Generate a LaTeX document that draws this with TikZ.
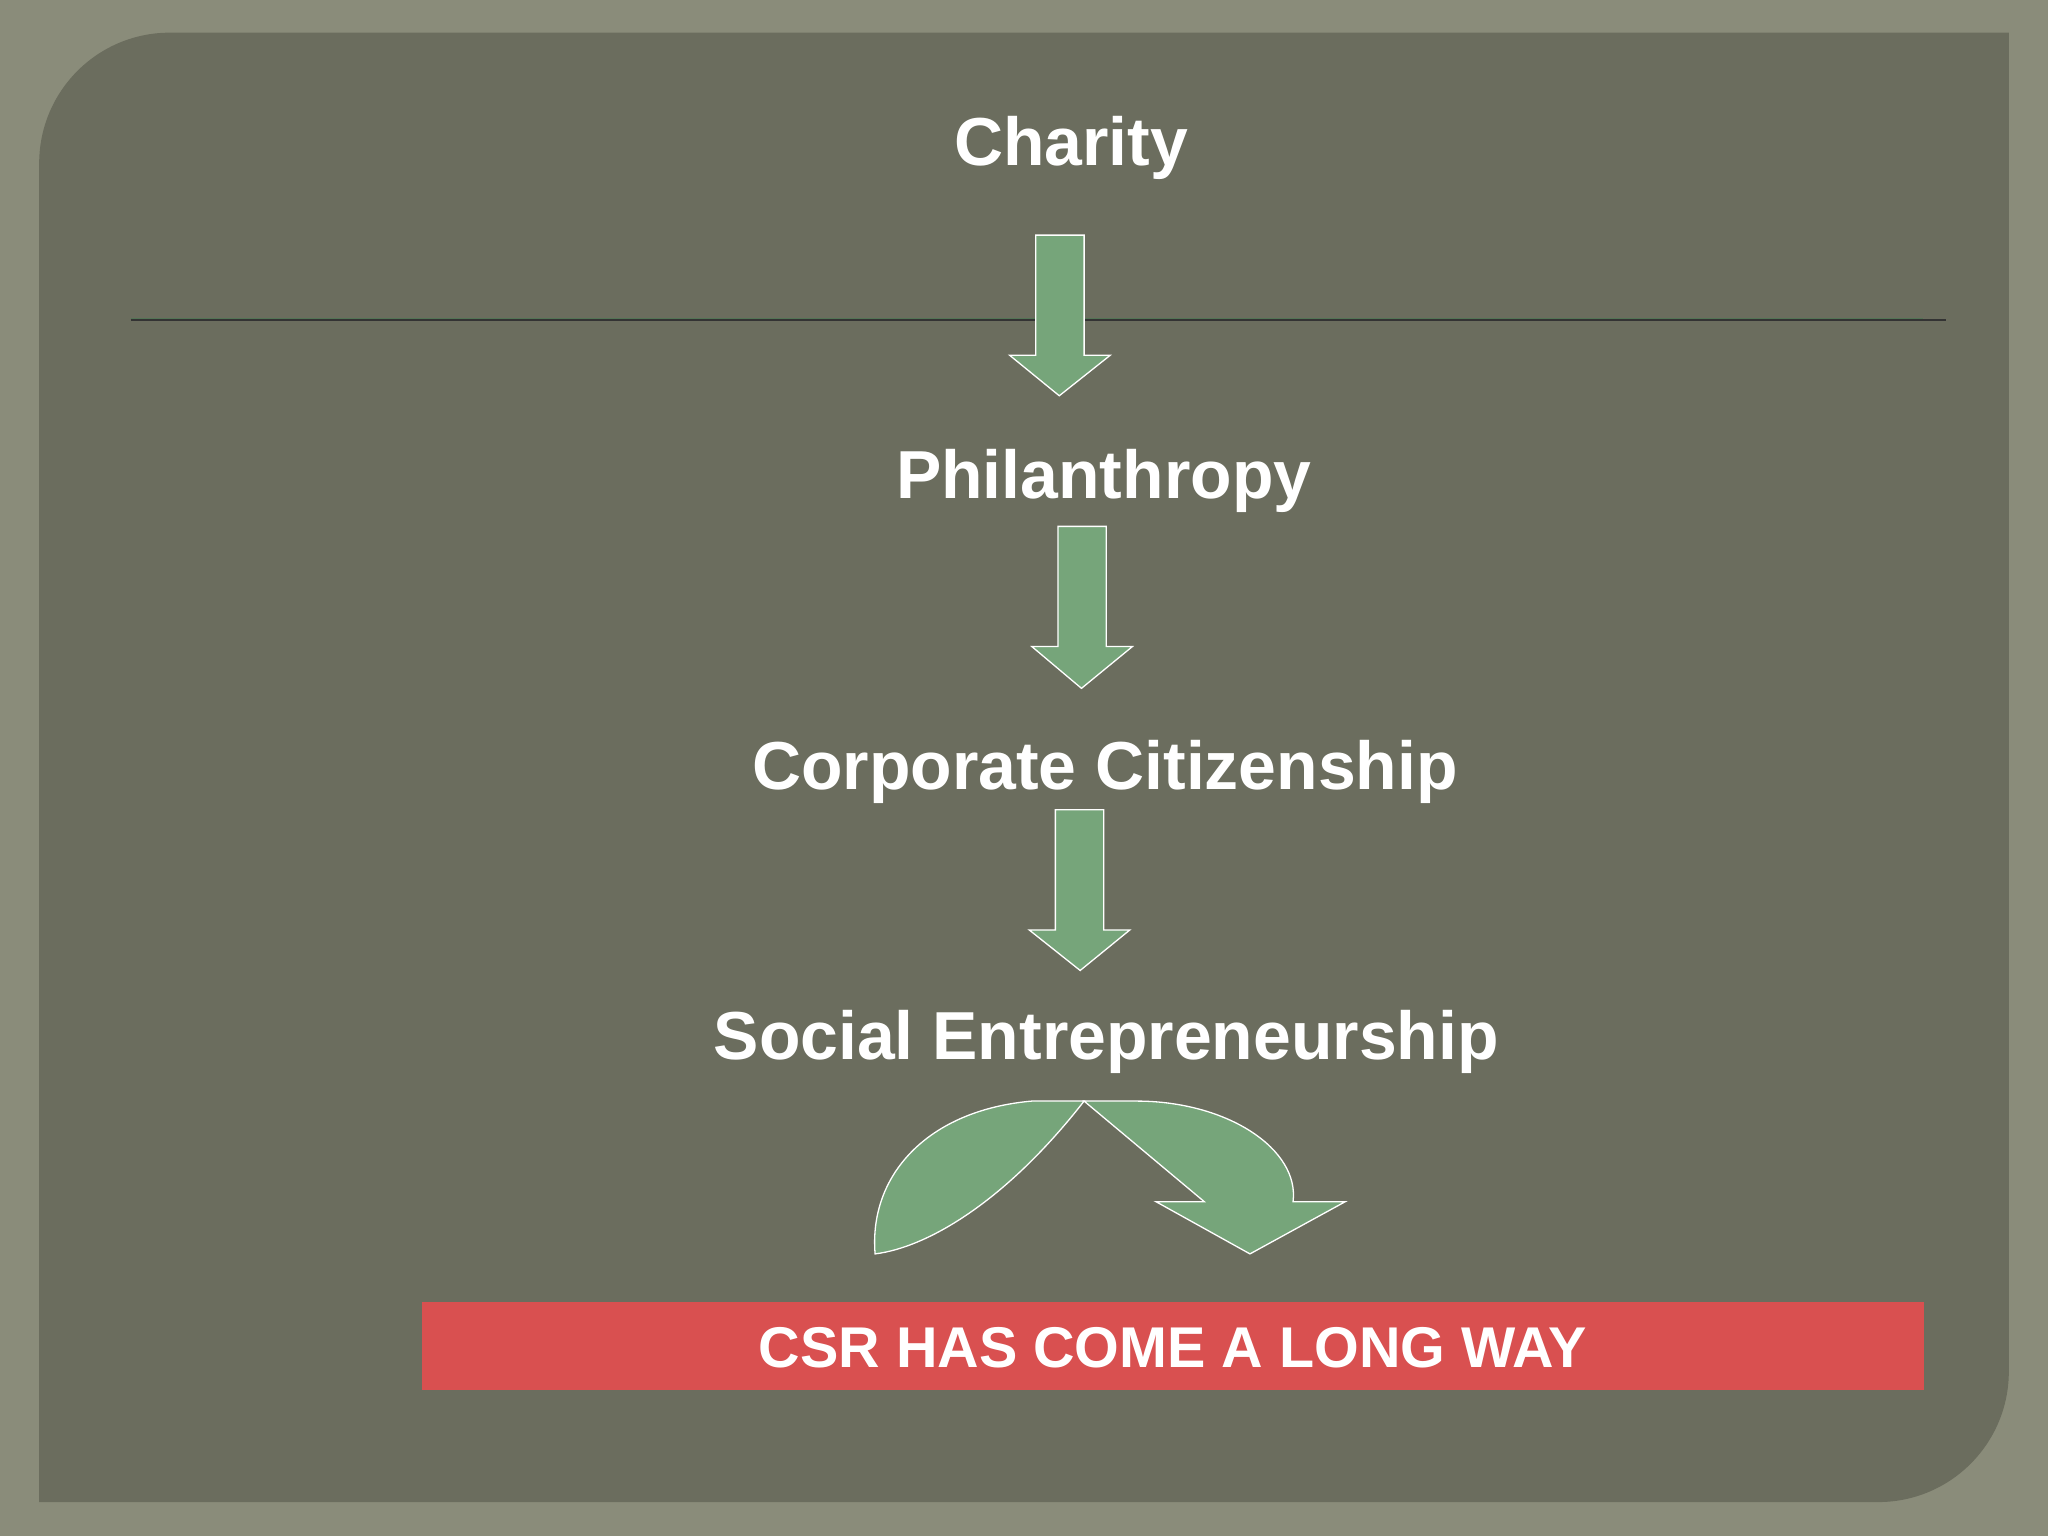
\documentclass[tikz,border=0pt]{standalone}
\usepackage{fontspec}
\setmainfont{Liberation Sans}
\begin{document}
\begin{tikzpicture}[x=1pt,y=-1pt,
  lbl/.style={text=white,font=\bfseries\fontsize{52}{60}\selectfont,inner sep=0pt},
  blk/.style={fill=arrowgreen,draw=white,line width=1pt}]
\definecolor{frame}{HTML}{8A8C7A}
\definecolor{panel}{HTML}{6B6D5E}
\definecolor{arrowgreen}{HTML}{76A57A}
\definecolor{barred}{HTML}{D95050}
\fill[frame] (0,0) rectangle (1568,1176);
\useasboundingbox (0,0) rectangle (1568,1176);
\fill[panel] (30,125) arc[start angle=180,end angle=270,radius=100] -- (1538,25) -- (1538,1050)
  arc[start angle=0,end angle=90,radius=100] -- (30,1150) -- cycle;
\draw[black!80,line width=1.2pt] (100,245) -- (1490,245);
\draw[arrowgreen!70!black,line width=0.6pt] (100,243.5) -- (1472,243.5);
\node[lbl] (charity) at (820,113) {Charity};
\node[lbl] (phil) at (845,368) {Philanthropy};
\node[lbl] (corp) at (846,591) {Corporate Citizenship};
\node[lbl] (soc) at (847,798) {Social Entrepreneurship};
\draw[blk] (793,180) -- (830,180) -- (830,272) -- (850,272) -- (811,303) -- (773,272) -- (793,272) -- cycle;
\draw[blk] (810,403) -- (847,403) -- (847,495) -- (867,495) -- (828,527) -- (790,495) -- (810,495) -- cycle;
\draw[blk] (808,620) -- (845,620) -- (845,712) -- (865,712) -- (827,743) -- (788,712) -- (808,712) -- cycle;
\draw[blk] (830,843) .. controls (770,920) and (710,955) .. (670,960)
  .. controls (665,900) and (710,850) .. (790,843) -- cycle;
\draw[blk] (830,843) -- (870,843) .. controls (940,843) and (995,880) .. (990,920)
  -- (1030,920) -- (957,960) -- (885,920) -- (922,920) -- cycle;
\fill[barred] (323,997) rectangle (1473,1064);
\node[text=white,font=\bfseries\fontsize{44}{50}\selectfont,inner sep=0pt] (csr) at (898,1032) {CSR HAS COME A LONG WAY};
\end{tikzpicture}
\end{document}
